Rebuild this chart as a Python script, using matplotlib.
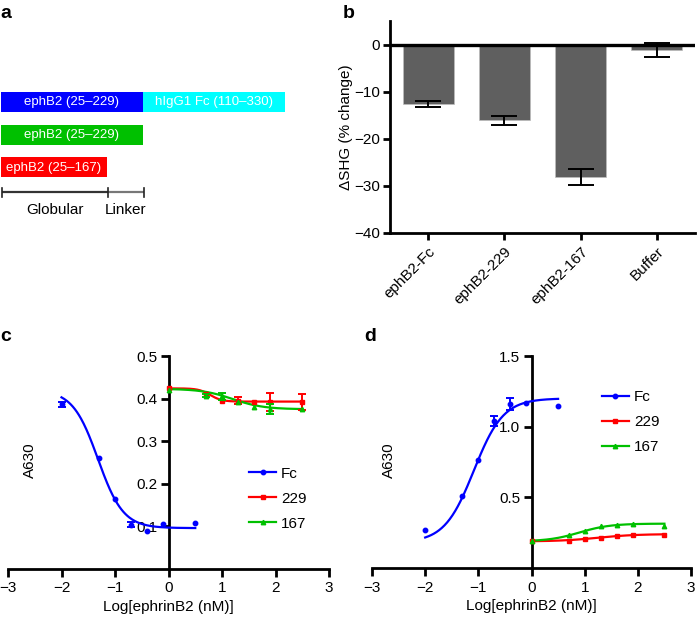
import numpy as np
import matplotlib
matplotlib.use("Agg")
import matplotlib.pyplot as plt
from matplotlib.patches import Rectangle
from matplotlib.lines import Line2D

plt.rcParams['font.family'] = ['Liberation Sans', 'DejaVu Sans']
plt.rcParams['axes.unicode_minus'] = True

# ---------------- data ----------------
# panel a : construct schematic (segment lengths in schematic units)
row_labels = [["ephB2 (25–229)", "hIgG1 Fc (110–330)"],
              ["ephB2 (25–229)"],
              ["ephB2 (25–167)"]]
row_colors = [["#0000ff", "#00ffff"], ["#00c000"], ["#ff0000"]]
row_lengths = [[142, 142], [142], [106]]
domain_names = ["Globular", "Linker"]
domain_lengths = [106, 36]

# panel b
bar_categories = ["ephB2-Fc", "ephB2-229", "ephB2-167", "Buffer"]
bar_means = [-12.7, -16.1, -28.1, -1.2]
bar_errs = [0.65, 0.95, 1.75, 1.5]

# panels c, d (log[ephrinB2 (nM)])
fc_x = [-2, -1.3, -1, -0.7, -0.4, -0.1, 0.5]
mut_x = [0, 0.7, 1, 1.3, 1.6, 1.9, 2.5]

c_fc_y = [0.387, 0.261, 0.165, 0.104, 0.089, 0.105, 0.107]
c_fc_err = [0.006, 0, 0, 0.006, 0, 0, 0]
c_229_y = [0.424, 0.411, 0.395, 0.395, 0.393, 0.392, 0.392]
c_229_err = [0, 0, 0, 0.008, 0, 0.021, 0.018]
c_167_y = [0.421, 0.407, 0.405, 0.392, 0.380, 0.376, 0.376]
c_167_err = [0, 0.004, 0.008, 0, 0, 0.012, 0]

d_fc_y = [0.266, 0.510, 0.767, 1.040, 1.160, 1.170, 1.149]
d_fc_err = [0, 0, 0, 0.035, 0.04, 0, 0]
d_229_y = [0.189, 0.191, 0.203, 0.215, 0.226, 0.235, 0.235]
d_229_err = [0, 0, 0, 0, 0, 0, 0]
d_167_y = [0.192, 0.235, 0.261, 0.294, 0.305, 0.310, 0.300]
d_167_err = [0, 0, 0, 0, 0, 0, 0]

# 4-parameter logistic fits: (y at low x, y at high x, logEC50, hill)
c_fc_fit = (0.42, 0.096, -1.318, 1.84)
c_229_fit = (0.424, 0.393, 0.78, 4.0)
c_167_fit = (0.423, 0.375, 1.2, 1.5)
d_fc_fit = (0.18, 1.20, -1.084, 1.57)
d_229_fit = (0.188, 0.24, 1.25, 1.2)
d_167_fit = (0.188, 0.314, 0.9, 1.5)

series_names = ["Fc", "229", "167"]
series_colors = ["#0000ff", "#ff0000", "#00c000"]
series_markers = ["o", "s", "^"]

FS = 11

# ---------------- figure ----------------
W, H = 697, 620
fig = plt.figure(figsize=(W / 100, H / 100), dpi=100)


def fpos(left, top, right, bottom):
    return [left / W, 1 - bottom / H, (right - left) / W, (bottom - top) / H]


def fx(px):
    return px / W


def fy(py):
    return 1 - py / H


def logistic(x, p):
    a, b, e, h = p
    return a + (b - a) / (1 + 10 ** ((e - x) * h))


# panel letters
for letter, (px, py) in zip("abcd", [(0, 14), (343, 14), (0, 336), (364, 336)]):
    fig.text(fx(px), fy(py), letter, fontsize=14, fontweight='bold',
             ha='left', va='center')

# ---------------- panel a ----------------
ax_a = fig.add_axes(fpos(0, 0, 300, 230))
ax_a.set_xlim(0, 300)
ax_a.set_ylim(230, 0)
ax_a.axis('off')
row_top = [92, 124.5, 157]
for r in range(len(row_labels)):
    x0 = 1
    for lab, col, ln in zip(row_labels[r], row_colors[r], row_lengths[r]):
        ax_a.add_patch(Rectangle((x0, row_top[r]), ln, 20, facecolor=col,
                                 edgecolor='none'))
        ax_a.text(x0 + ln / 2, row_top[r] + 10.5, lab, color='white',
                  fontsize=9.5, ha='center', va='center')
        x0 += ln

# scale bar
x0 = 2
scale_colors = ['#333333', '#777777']
for name, ln, col in zip(domain_names, domain_lengths, scale_colors):
    ax_a.plot([x0, x0 + ln], [192, 192], color=col, lw=1.6,
              solid_capstyle='butt')
    ax_a.text(x0 + ln / 2, 210, name, fontsize=FS, ha='center',
              va='center')
    x0 += ln
tick_x = np.cumsum([2] + domain_lengths)
for tx in tick_x:
    ax_a.plot([tx, tx], [188, 197], color='#222222', lw=1.2)

# ---------------- panel b ----------------
ax_b = fig.add_axes(fpos(390, 21, 695, 233))
xb = np.arange(len(bar_categories))
ax_b.bar(xb, bar_means, width=0.67, color='#5f5f5f', edgecolor='#bdbdbd',
         linewidth=0.5, zorder=2)
ax_b.errorbar(xb, bar_means, yerr=bar_errs, fmt='none', ecolor='black',
              elinewidth=1.4, capsize=9.5, capthick=1.4, zorder=3)
ax_b.axhline(0, color='black', lw=2.4, zorder=4)
ax_b.set_xlim(-0.5, 3.5)
ax_b.set_ylim(-40, 5)
ax_b.set_yticks([-40, -30, -20, -10, 0])
ax_b.set_xticks(xb)
ax_b.set_xticklabels(bar_categories, rotation=45, ha='right', va='top',
                     rotation_mode='anchor', fontsize=FS)
for s in ['top', 'right']:
    ax_b.spines[s].set_visible(False)
for s in ['left', 'bottom']:
    ax_b.spines[s].set_linewidth(2.0)
ax_b.tick_params(axis='both', width=2.0, length=5, labelsize=FS, pad=2)
ax_b.tick_params(axis='x', pad=3)
ax_b.set_ylabel("ΔSHG (% change)", fontsize=FS, labelpad=1)


# ---------------- panels c, d ----------------
def dose_panel(pos, xs_list, ys_list, errs_list, fits, ylim, yticks,
               yticklabels, leg_anchor, ylabel_px):
    ax = fig.add_axes(pos)
    for i in range(3):
        xs = np.array(xs_list[i])
        ys = np.array(ys_list[i])
        es = np.array(errs_list[i])
        xc = np.linspace(xs.min(), xs.max(), 200)
        ax.plot(xc, logistic(xc, fits[i]), color=series_colors[i], lw=1.6,
                zorder=3, clip_on=False)
        ax.plot(xs, ys, linestyle='none', marker=series_markers[i],
                color=series_colors[i], ms=3.2, zorder=4, clip_on=False)
        m = es > 0
        if m.any():
            ax.errorbar(xs[m], ys[m], yerr=es[m], fmt='none',
                        ecolor=series_colors[i], elinewidth=1.4,
                        capsize=3, capthick=1.4, zorder=4, clip_on=False)
    ax.set_xlim(-3, 3)
    ax.set_ylim(*ylim)
    ax.set_xticks([-3, -2, -1, 0, 1, 2, 3])
    ax.set_yticks(yticks)
    ax.set_yticklabels(yticklabels)
    ax.spines['left'].set_position(('data', 0))
    for s in ['top', 'right']:
        ax.spines[s].set_visible(False)
    for s in ['left', 'bottom']:
        ax.spines[s].set_linewidth(2.0)
        ax.spines[s].set_zorder(2)
    ax.tick_params(axis='both', width=2.0, length=6, labelsize=FS, pad=2)
    ax.tick_params(axis='x', pad=3)
    ax.set_xlabel("Log[ephrinB2 (nM)]", fontsize=FS, labelpad=3)
    fig.text(fx(ylabel_px[0]), fy(ylabel_px[1]), "A630", rotation=90,
             fontsize=FS, ha='center', va='center')
    handles = [Line2D([], [], color=series_colors[i], lw=1.6,
                      marker=series_markers[i], ms=3.2)
               for i in range(3)]
    ax.legend(handles, series_names, loc='upper left',
              bbox_to_anchor=leg_anchor, frameon=False, fontsize=FS,
              handlelength=1.8, handletextpad=0.3, labelspacing=0.72,
              borderpad=0, borderaxespad=0, numpoints=1)
    return ax


dose_panel(fpos(8, 356, 329, 569),
           [fc_x, mut_x, mut_x], [c_fc_y, c_229_y, c_167_y],
           [c_fc_err, c_229_err, c_167_err],
           [c_fc_fit, c_229_fit, c_167_fit],
           (0, 0.5), [0.1, 0.2, 0.3, 0.4, 0.5],
           ["0.1", "0.2", "0.3", "0.4", "0.5"], (0.75, 0.48), (30, 460))

dose_panel(fpos(372, 356, 691, 568),
           [fc_x, mut_x, mut_x], [d_fc_y, d_229_y, d_167_y],
           [d_fc_err, d_229_err, d_167_err],
           [d_fc_fit, d_229_fit, d_167_fit],
           (0, 1.5), [0.5, 1.0, 1.5], ["0.5", "1.0", "1.5"],
           (0.72, 0.84), (389, 460))

fig.savefig("out.png", dpi=100)
